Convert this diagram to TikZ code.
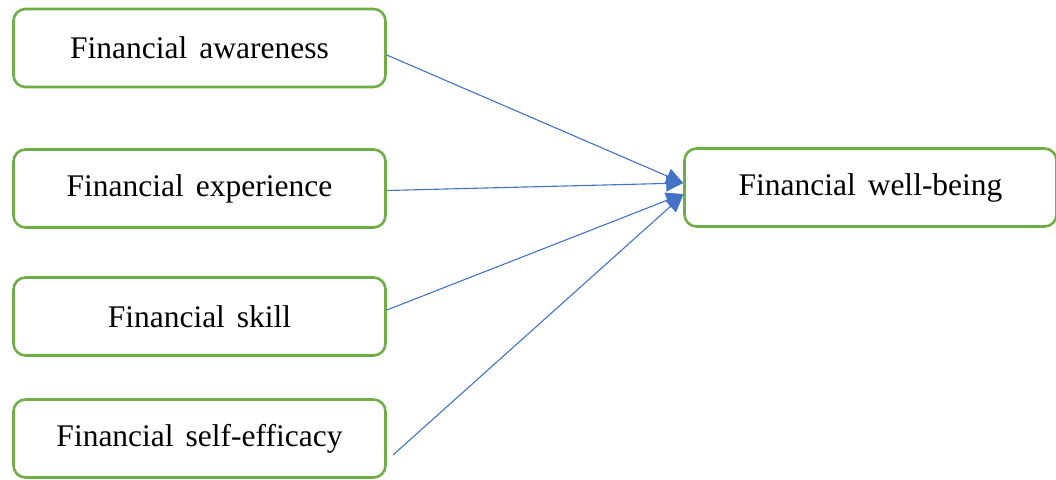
\documentclass[tikz,border=0pt]{standalone}
\usepackage{fontspec}
\setmainfont{Liberation Serif}
\usetikzlibrary{arrows.meta}
\definecolor{boxgreen}{RGB}{112,173,71}
\definecolor{linkblue}{RGB}{68,114,196}

\begin{document}
\begin{tikzpicture}[x=1pt,y=-1pt,
	factor/.style={draw=boxgreen, line width=2.6pt, rounded corners=12pt, fill=white,
		minimum width=372pt, minimum height=78pt, inner sep=0pt,
		font=\fontsize{31.5}{36}\selectfont},
	link/.style={draw=linkblue, line width=1.1pt, -{Triangle[length=17pt,width=16pt]}}]
	\useasboundingbox (0,0) rectangle (1056,479);
	\node [factor] (aware) at (199.5,48) {Financial\hspace{12pt}awareness};
	\node [factor] (exper) at (199.5,188.5) {Financial\hspace{12pt}experience};
	\node [factor] (skill) at (199.5,316.5) {Financial\hspace{12pt}skill};
	\node [factor] (self) at (199.5,438.5) {Financial\hspace{12pt}self-efficacy};
	\node [factor] (wellb) at (870.5,187.5) {Financial\hspace{12pt}well-being};
	\coordinate (selfend) at (393,455);
	\draw [link] (aware.east |- 0,55) -- (wellb.west |- 0,183);
	\draw [link] (exper.east |- 0,190.5) -- (wellb.west |- 0,183);
	\draw [link] (skill.east |- 0,310) -- (wellb.west |- 0,194);
	\draw [link] (selfend) -- (wellb.west |- 0,195);
\end{tikzpicture}
\end{document}
